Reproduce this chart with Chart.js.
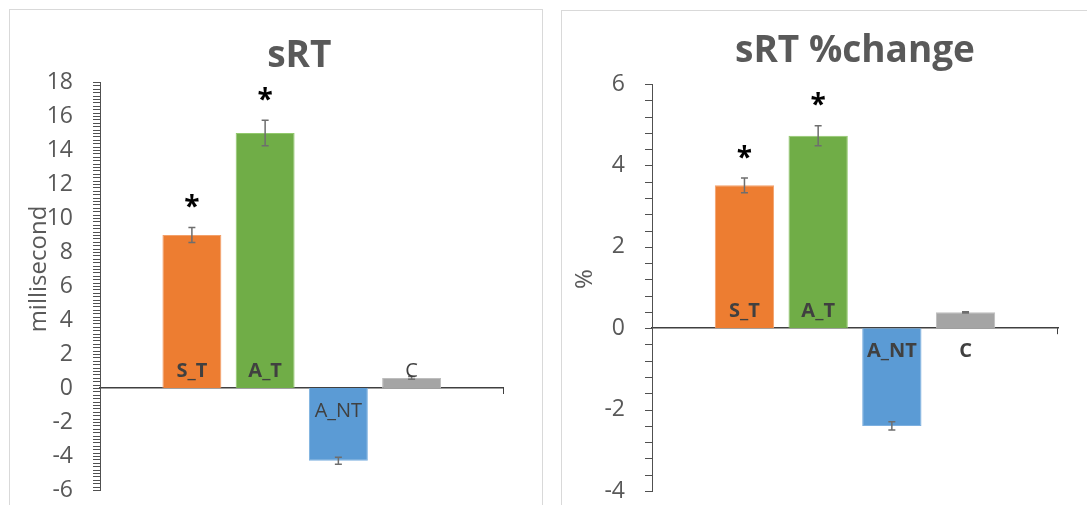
<!DOCTYPE html>
<html>
<head>
<meta charset="utf-8">
<script src="https://cdn.jsdelivr.net/npm/chart.js@4.4.1/dist/chart.umd.min.js"></script>
<style>
  html, body { margin: 0; padding: 0; background: #fff; }
  body { width: 1087px; height: 505px; position: relative; overflow: hidden; }
  .panel { position: absolute; border: 1px solid #d9d9d9; background: #fff; }
  #p1 { left: 9px; top: 9px; width: 532px; height: 520px; }
  #p2 { left: 561px; top: 10px; width: 540px; height: 520px; }
  canvas { position: absolute; top: 0; }
  #c1 { left: 0; }
  #c2 { left: 552px; }
</style>
</head>
<body>
<div class="panel" id="p1"></div>
<div class="panel" id="p2"></div>
<canvas id="c1" width="543" height="505"></canvas>
<canvas id="c2" width="535" height="505"></canvas>
<script>
// Groups shown as bars (left to right)
const groups = ['S_T', 'A_T', 'A_NT', 'C'];
const groupColors = ['#ED7D31', '#70AD47', '#5B9BD5', '#A5A5A5'];
const groupEdges  = ['#F3A06A', '#92C96C', '#7DB0E0', '#BDBDBD'];

// sRT (millisecond)
const rtValues = [9.0, 15.0, -4.28, 0.59];
const rtErrors = [0.44, 0.75, 0.2, 0.08];
const rtSignificant = [true, true, false, false];
const rtTickValues = [-6, -4, -2, 0, 2, 4, 6, 8, 10, 12, 14, 16, 18];

// sRT %change (%)
const pctValues = [3.51, 4.73, -2.40, 0.39];
const pctErrors = [0.18, 0.245, 0.1, 0.015];
const pctSignificant = [true, true, false, false];
const pctTickValues = [-4, -2, 0, 2, 4, 6];

const FONT = '"Open Sans", "Liberation Sans", sans-serif';
const GREY_TEXT = '#595959';

// Draws minor ticks, error bars, in-bar group labels, significance stars,
// the chart heading and the rotated value-axis caption.
const decorations = {
  id: 'decorations',
  afterDraw(chart, args, o) {
    const { ctx, chartArea: ca, scales: { y } } = chart;
    ctx.save();

    // tick marks along the value axis
    ctx.strokeStyle = '#505050';
    ctx.lineWidth = 1;
    const n = Math.round((y.max - y.min) / o.minorUnit);
    for (let i = 0; i <= n; i++) {
      const v = y.min + i * o.minorUnit;
      const py = Math.round(y.getPixelForValue(v)) + 0.5;
      ctx.beginPath();
      ctx.moveTo(ca.left - 7, py);
      ctx.lineTo(ca.left, py);
      ctx.stroke();
    }
    // closing tick at the far end of the category axis
    const zy = y.getPixelForValue(0);
    ctx.strokeStyle = '#404040';
    ctx.beginPath();
    ctx.moveTo(Math.round(ca.right) - 0.5, zy);
    ctx.lineTo(Math.round(ca.right) - 0.5, zy + 6);
    ctx.stroke();

    chart.data.datasets.forEach((ds, i) => {
      const bar = chart.getDatasetMeta(i).data[0];
      const v = ds.data[0];
      const e = o.errors[i];
      const yHi = y.getPixelForValue(v + e);
      const yLo = y.getPixelForValue(v - e);

      // error bar
      ctx.strokeStyle = '#6e6e6e';
      ctx.lineWidth = 1.5;
      ctx.beginPath();
      ctx.moveTo(bar.x, yHi); ctx.lineTo(bar.x, yLo);
      ctx.moveTo(bar.x - 3.5, yHi); ctx.lineTo(bar.x + 3.5, yHi);
      ctx.moveTo(bar.x - 3.5, yLo); ctx.lineTo(bar.x + 3.5, yLo);
      ctx.stroke();

      // group label at the bar base
      ctx.fillStyle = '#404040';
      ctx.textAlign = 'center';
      ctx.textBaseline = 'alphabetic';
      ctx.font = (o.labelBold[i] ? 'bold ' : '') + '20px ' + FONT;
      const ly = o.labelBelow[i] ? zy + 29 : zy - 11;
      ctx.fillText(groups[i], bar.x, ly);

      // significance marker
      if (o.significant[i]) {
        ctx.fillStyle = '#000';
        ctx.font = 'bold 28px ' + FONT;
        ctx.fillText('*', bar.x, Math.min(yHi, yLo) - 11.5);
      }
    });

    // heading
    ctx.fillStyle = GREY_TEXT;
    ctx.textAlign = 'center';
    ctx.textBaseline = 'alphabetic';
    ctx.font = 'bold 37px ' + FONT;
    ctx.fillText(o.heading, (ca.left + ca.right) / 2 + o.headingShift, o.headingBaseline);

    // value-axis caption
    ctx.font = '24px ' + FONT;
    ctx.translate(o.captionX, o.captionY);
    ctx.rotate(-Math.PI / 2);
    ctx.fillText(o.caption, 0, 0);

    ctx.restore();
  }
};

function buildChart(canvasId, cfg) {
  return new Chart(document.getElementById(canvasId), {
    type: 'bar',
    data: {
      labels: [''],
      datasets: groups.map((g, i) => ({
        label: g,
        data: [cfg.values[i]],
        backgroundColor: groupColors[i],
        borderColor: groupEdges[i],
        borderWidth: 1,
        categoryPercentage: 0.726,
        barPercentage: 0.805
      }))
    },
    options: {
      responsive: false,
      animation: false,
      devicePixelRatio: 1,
      events: [],
      layout: { padding: cfg.padding },
      plugins: {
        legend: { display: false },
        title: { display: false },
        tooltip: { enabled: false },
        decorations: {
          errors: cfg.errors,
          significant: cfg.significant,
          minorUnit: cfg.minorUnit,
          labelBelow: cfg.labelBelow,
          labelBold: cfg.labelBold,
          heading: cfg.heading,
          headingShift: cfg.headingShift,
          headingBaseline: cfg.headingBaseline,
          caption: cfg.caption,
          captionX: cfg.captionX,
          captionY: cfg.captionY
        }
      },
      scales: {
        x: {
          type: 'category',
          position: { y: 0 },
          z: 1,
          grid: { display: false },
          ticks: { display: false },
          border: { display: true, color: '#404040', width: 1.5 }
        },
        y: {
          min: cfg.ticks[0],
          max: cfg.ticks[cfg.ticks.length - 1],
          afterBuildTicks: s => { s.ticks = cfg.ticks.map(v => ({ value: v })); },
          afterFit: s => { s.width = 100; s.paddingTop = 0; s.paddingBottom = 0; },
          grid: { display: false, drawTicks: false },
          border: { display: true, color: '#505050', width: 1 },
          ticks: {
            padding: 27,
            color: GREY_TEXT,
            font: { family: FONT, size: 23 }
          }
        }
      }
    },
    plugins: [decorations]
  });
}

buildChart('c1', {
  values: rtValues,
  errors: rtErrors,
  significant: rtSignificant,
  ticks: rtTickValues,
  minorUnit: 0.2,
  labelBelow: [false, false, true, false],
  labelBold: [true, true, false, false],
  heading: 'sRT',
  headingShift: -2.5,
  headingBaseline: 67,
  caption: 'millisecond',
  captionX: 45.5,
  captionY: 269,
  padding: { top: 82, bottom: 15, left: 0, right: 39.5 }
});

buildChart('c2', {
  values: pctValues,
  errors: pctErrors,
  significant: pctSignificant,
  ticks: pctTickValues,
  minorUnit: 0.4,
  labelBelow: [false, false, true, true],
  labelBold: [true, true, true, true],
  heading: 'sRT %change',
  headingShift: 0,
  headingBaseline: 62,
  caption: '%',
  captionX: 39.5,
  captionY: 279,
  padding: { top: 84, bottom: 14, left: 0, right: 29 }
});
</script>
</body>
</html>
